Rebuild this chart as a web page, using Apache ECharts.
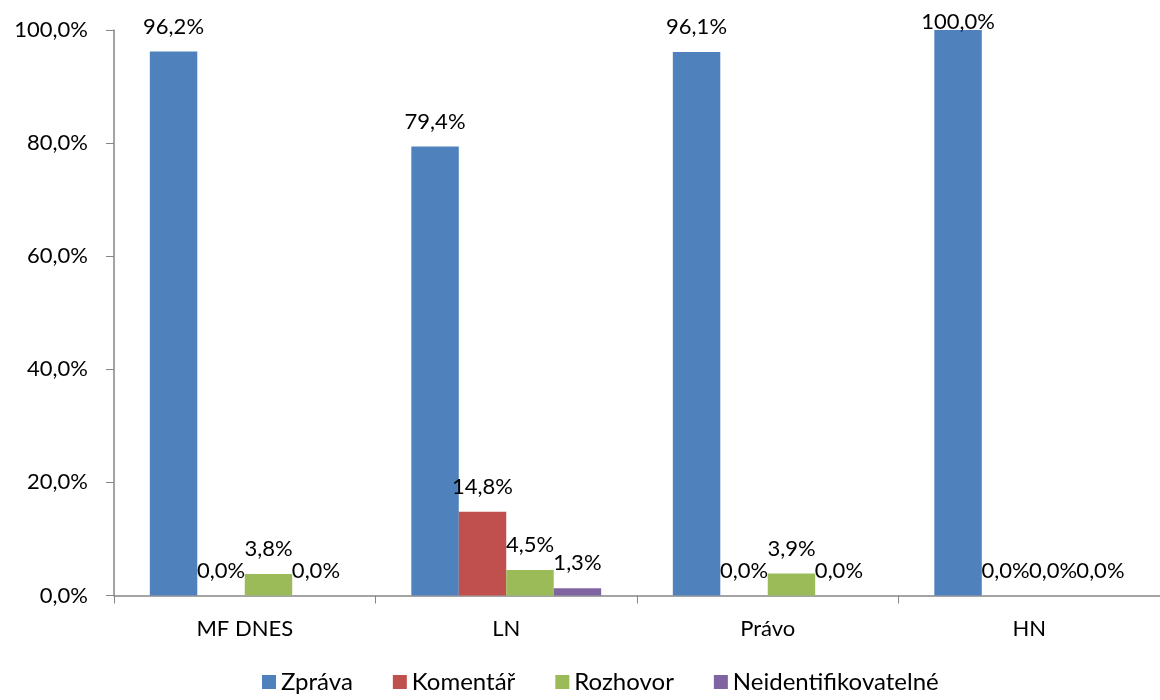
<!DOCTYPE html>
<html>
<head>
<meta charset="utf-8">
<script src="https://cdn.jsdelivr.net/npm/echarts@6/dist/echarts.min.js"></script>
<style>
  html, body { margin: 0; padding: 0; background: #fff; }
  #chart { width: 1160px; height: 700px; }
</style>
</head>
<body>
<div id="chart"></div>
<script>
const categories = ["MF DNES", "LN", "Právo", "HN"];
const seriesNames = ["Zpráva", "Komentář", "Rozhovor", "Neidentifikovatelné"];
const zprava = [96.2, 79.4, 96.1, 100.0];
const komentar = [0.0, 14.8, 0.0, 0.0];
const rozhovor = [3.8, 4.5, 3.9, 0.0];
const neident = [0.0, 1.3, 0.0, 0.0];
const colors = ["#4F81BD", "#C0504D", "#9BBB59", "#8064A2"];

const font = "Lato";
const fmt = v => v.toFixed(1).replace(".", ",") + "%";

const series = [zprava, komentar, rozhovor, neident].map((data, i) => ({
  name: seriesNames[i],
  type: "bar",
  // labels at the top edge are kept inside the plot, as in the original
  data: data.map(v => v >= 100 ? { value: v, label: { distance: -3 } } : v),
  barGap: 0,
  barCategoryGap: "27.4%",
  itemStyle: { color: colors[i] },
  label: {
    show: true,
    position: "top",
    distance: 14,
    color: "#000",
    fontFamily: font,
    fontSize: 22,
    formatter: p => fmt(p.value)
  }
}));

const chart = echarts.init(document.getElementById("chart"));
chart.setOption({
  animation: false,
  grid: { left: 114, right: -12, top: 30, bottom: 104.5, containLabel: false },
  legend: {
    data: seriesNames,
    bottom: 1,
    left: 257,
    itemWidth: 14,
    itemHeight: 14,
    itemGap: 40,
    icon: "rect",
    textStyle: { fontFamily: font, fontSize: 24, color: "#000" }
  },
  xAxis: {
    type: "category",
    data: categories,
    axisLine: { lineStyle: { color: "#868686", width: 1.5 } },
    axisTick: { show: true, length: 8, lineStyle: { color: "#868686" } },
    axisLabel: { margin: 22, color: "#000", fontFamily: font, fontSize: 22 }
  },
  yAxis: {
    type: "value",
    min: 0,
    max: 100,
    interval: 20,
    axisLine: { show: true, lineStyle: { color: "#868686", width: 1.5 } },
    axisTick: { show: true, length: 8, lineStyle: { color: "#868686" } },
    splitLine: { show: false },
    axisLabel: { margin: 26, color: "#000", fontFamily: font, fontSize: 22, formatter: v => fmt(v) }
  },
  series: series
});
</script>
</body>
</html>
